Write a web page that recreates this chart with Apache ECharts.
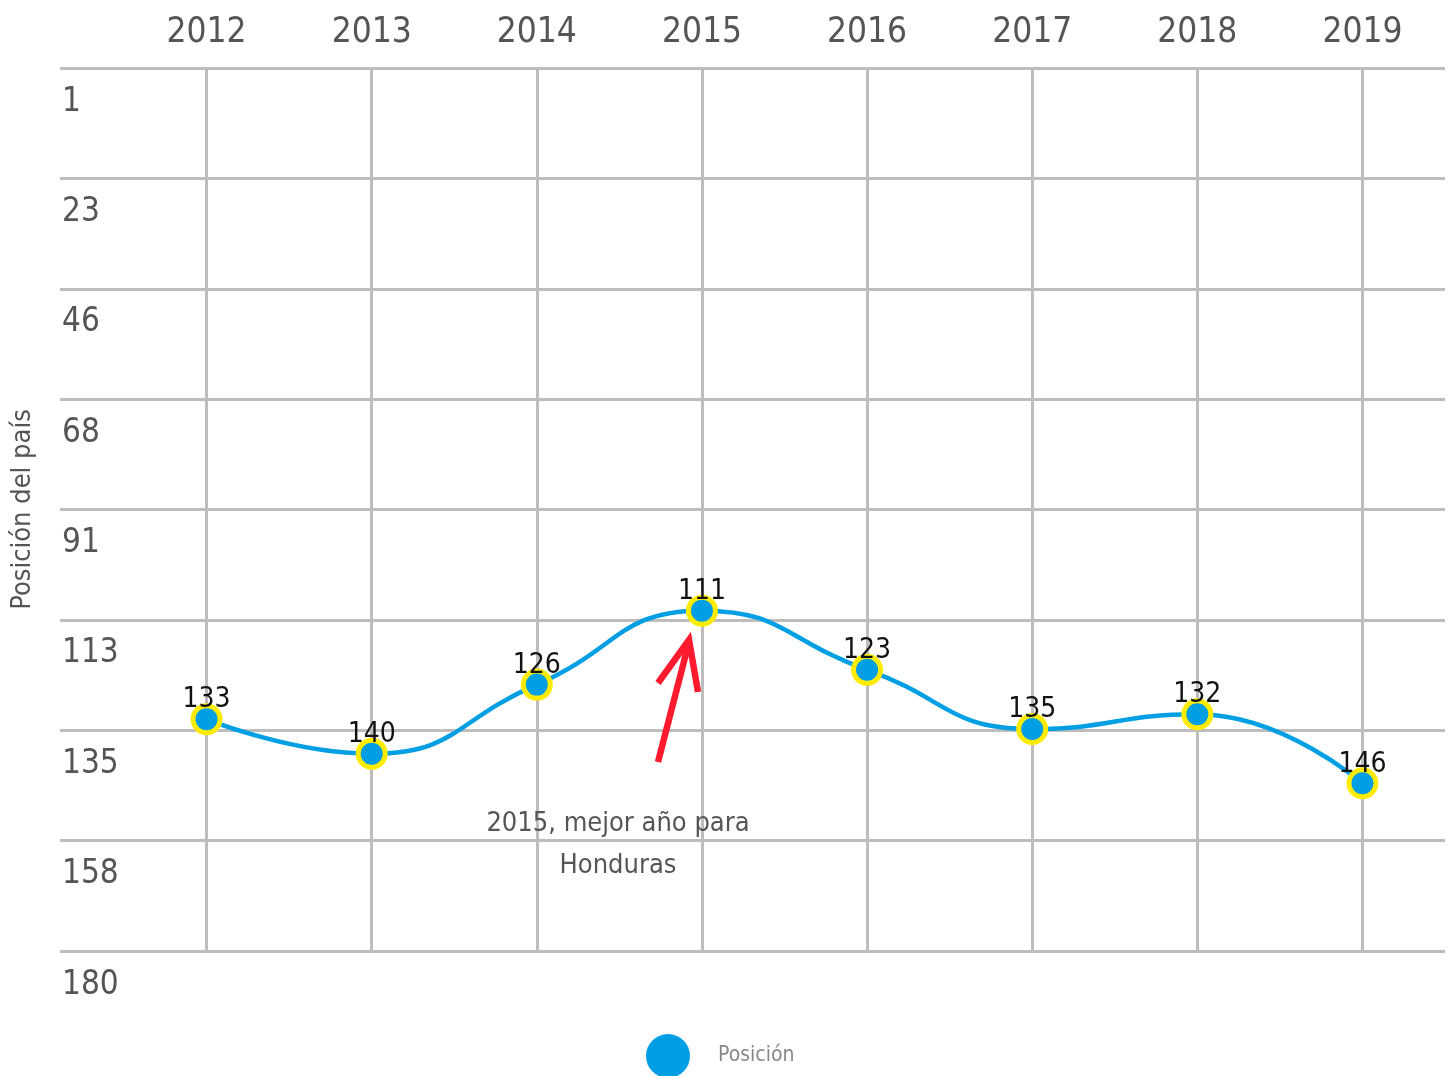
<!DOCTYPE html>
<html>
<head>
<meta charset="utf-8">
<script src="https://cdn.jsdelivr.net/npm/echarts@6/dist/echarts.min.js"></script>
<style>html,body{margin:0;padding:0;background:#fff}#c{width:1452px;height:1076px}</style>
</head>
<body>
<div id="c"></div>
<script>
const years = ['2012','2013','2014','2015','2016','2017','2018','2019'];
const positions = [133, 140, 126, 111, 123, 135, 132, 146];
const yTicks = [1, 23.375, 45.75, 68.125, 90.5, 112.875, 135.25, 157.625, 180];
const seriesName = 'Posición';
const yAxisName = 'Posición del país';
const noteText = '2015, mejor año para\nHonduras';

const FONT = '"DejaVu Sans Condensed", "Liberation Sans Narrow", sans-serif';
const GRID = '#bdbdbd';

const chart = echarts.init(document.getElementById('c'), null, {renderer: 'canvas'});
chart.setOption({
  backgroundColor: '#fff',
  animation: false,
  grid: {left: 124, right: 7, top: 68, bottom: 125, containLabel: false, outerBoundsMode: 'none'},
  xAxis: {
    type: 'category',
    position: 'top',
    data: years,
    boundaryGap: true,
    axisLine: {show: false},
    axisTick: {show: true, alignWithLabel: true, inside: true, length: 883,
      lineStyle: {color: GRID, width: 3}},
    splitLine: {show: false},
    axisLabel: {color: '#555', fontSize: 35, fontFamily: FONT, margin: 18}
  },
  yAxis: {
    type: 'value',
    inverse: true,
    min: 1,
    max: 180,
    name: yAxisName,
    nameLocation: 'middle',
    nameRotate: 90,
    nameGap: 88,
    nameTextStyle: {color: '#555', fontSize: 27, fontFamily: FONT},
    axisLine: {show: false},
    axisTick: {show: true, inside: false, length: 64, customValues: yTicks,
      lineStyle: {color: GRID, width: 3}},
    splitLine: {show: true, lineStyle: {color: GRID, width: 3}},
    axisLabel: {
      customValues: yTicks,
      color: '#555', fontSize: 33, fontFamily: FONT,
      align: 'left', margin: 62, verticalAlign: 'top', lineHeight: 68,
      formatter: v => String(Math.round(v))
    }
  },
  legend: {
    left: 641, top: 1029,
    icon: 'circle', itemWidth: 44, itemHeight: 44,
    itemStyle: {borderWidth: 0},
    textStyle: {color: '#888', fontSize: 21, fontFamily: FONT, padding: [0, 0, 0, 23]},
    data: [seriesName]
  },
  series: [{
    name: seriesName,
    type: 'line',
    smooth: true,
    data: positions,
    symbol: 'circle',
    symbolSize: 27,
    lineStyle: {color: '#009FE3', width: 4.5},
    itemStyle: {color: '#009FE3', borderColor: '#FFEC00', borderWidth: 5},
    label: {show: true, position: 'top', distance: -11, color: '#111', fontSize: 28, fontFamily: FONT},
    z: 5
  }],
  graphic: [
    {type: 'polyline', shape: {points: [[658, 762], [689, 642]]},
      style: {stroke: '#FF1A2E', lineWidth: 6.5, fill: null}, z: 10},
    {type: 'polyline', shape: {points: [[658, 683], [689, 640], [698, 692]]},
      style: {stroke: '#FF1A2E', lineWidth: 6.5, fill: null, lineJoin: 'miter'}, z: 10},
    {type: 'text', x: 618, y: 845,
      style: {text: noteText, fill: '#555', font: '27px ' + FONT, align: 'center', verticalAlign: 'middle', lineHeight: 42}, z: 10}
  ]
});
</script>
</body>
</html>
